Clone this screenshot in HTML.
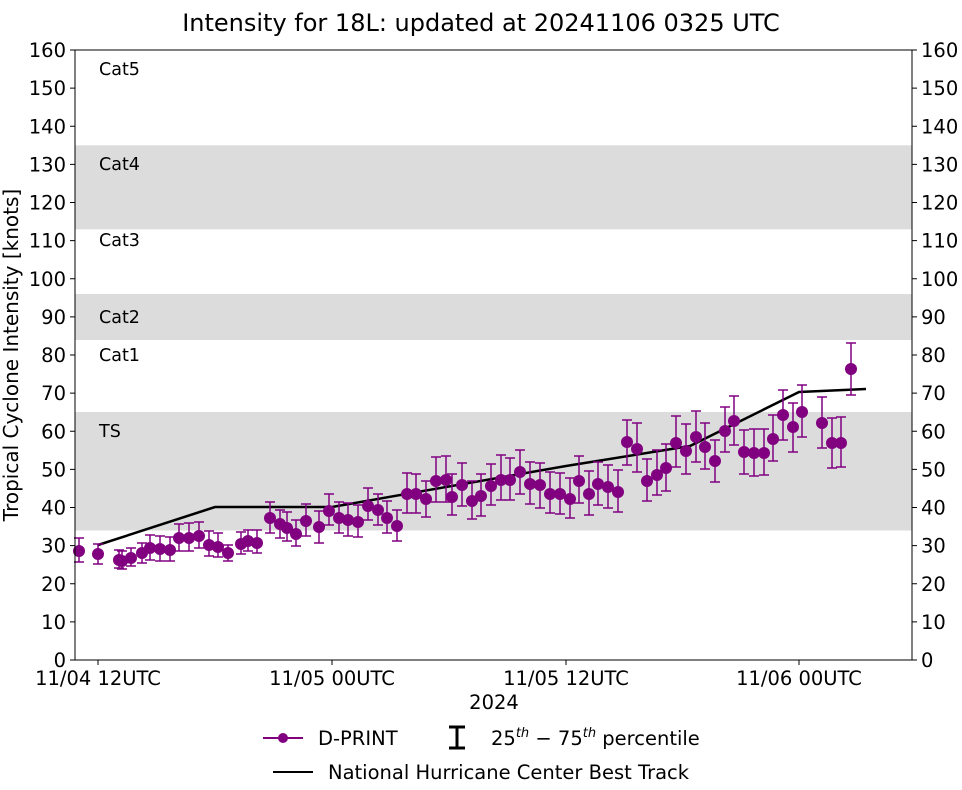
<!DOCTYPE html>
<html><head><meta charset="utf-8"><style>
body{margin:0;background:#fff;}
svg text{font-family:"DejaVu Sans","Liberation Sans",sans-serif;}
</style></head><body>
<svg id="s" width="962" height="785" xmlns="http://www.w3.org/2000/svg">
<rect width="962" height="785" fill="#fff"/>
<rect x="75" y="412" width="837" height="118.5" fill="#dcdcdc"/>
<rect x="75" y="294" width="837" height="46" fill="#dcdcdc"/>
<rect x="75" y="145.3" width="837" height="84" fill="#dcdcdc"/>
<g font-size="17.5" fill="#000">
<text x="99" y="75">Cat5</text><text x="99" y="170">Cat4</text><text x="99" y="246">Cat3</text>
<text x="99" y="323">Cat2</text><text x="99" y="361">Cat1</text><text x="99" y="437">TS</text>
</g>
<g id="ticks"></g>
<polyline points="98,545 215,507 332,507 566,466 690,446 799,392 866,389" fill="none" stroke="#000" stroke-width="2.5"/>
<g id="pts"></g>
<rect x="75" y="50" width="837" height="610" fill="none" stroke="#000" stroke-width="1"/>
<text x="481" y="31" font-size="24" text-anchor="middle">Intensity for 18L: updated at 20241106 0325 UTC</text>
<text x="494" y="709" font-size="19.5" text-anchor="middle">2024</text>
<text transform="translate(18,355) rotate(-90)" font-size="20" text-anchor="middle">Tropical Cyclone Intensity [knots]</text>
<g font-size="19.5">
<line x1="263" y1="738" x2="303" y2="738" stroke="#800080" stroke-width="2"/>
<circle cx="283" cy="738" r="5" fill="#800080"/>
<text x="318" y="745">D-PRINT</text>
<path d="M449,727h16M457,727v21M449,748h16" stroke="#000" stroke-width="3" fill="none"/>
<text x="491" y="745">25<tspan font-size="13" dy="-8" font-style="italic">th</tspan><tspan dy="8"> − 75</tspan><tspan font-size="13" dy="-8" font-style="italic">th</tspan><tspan dy="8"> percentile</tspan></text>
<line x1="273" y1="772" x2="313" y2="772" stroke="#000" stroke-width="2"/>
<text x="328" y="779">National Hurricane Center Best Track</text>
</g>
</svg>
<script>
var NS="http://www.w3.org/2000/svg";
function el(p,t,a,txt){var e=document.createElementNS(NS,t);for(var k in a)e.setAttribute(k,a[k]);if(txt!==undefined)e.textContent=txt;p.appendChild(e);return e;}
var tg=document.getElementById("ticks");
for(var v=0;v<=160;v+=10){var y=660-v*3.8125;
el(tg,"line",{x1:70,y1:y,x2:75,y2:y,stroke:"#000"});
el(tg,"line",{x1:912,y1:y,x2:917,y2:y,stroke:"#000"});
el(tg,"text",{x:66,y:y+7,"font-size":19.5,"text-anchor":"end"},v);
el(tg,"text",{x:921,y:y+7,"font-size":19.5},v);}
var xt=[[98,"11/04 12UTC"],[332,"11/05 00UTC"],[566,"11/05 12UTC"],[799,"11/06 00UTC"]];
xt.forEach(function(t){el(tg,"line",{x1:t[0],y1:660,x2:t[0],y2:665,stroke:"#000"});
el(tg,"text",{x:t[0],y:685,"font-size":19.5,"text-anchor":"middle"},t[1]);});
var P=[[79,551,538,562],[98,554,544,564],[119,560,550,568],[122,561,551,569],[131,558,548,566],[142,553,543,563],[150,548,535,560],[160,549,536,561],[170,550,537,561],[179,538,524,551],[189,538,523,551],[199,536,522,548],[209,545,531,556],[218,547,533,557],[228,553,545,561],[241,544,532,554],[248,541,530,551],[257,543,530,553],[270,518,502,533],[280,524,510,538],[287,528,512,541],[296,534,520,546],[306,521,504,536],[319,527,511,543],[329,511,494,525],[339,518,502,533],[348,520,503,536],[358,522,505,537],[368,506,488,520],[378,510,494,525],[387,518,501,533],[397,526,510,541],[407,494,473,513],[416,494,474,513],[426,499,481,517],[436,481,457,502],[446,480,456,502],[452,497,474,515],[462,485,463,506],[472,501,481,519],[481,496,474,516],[491,486,464,505],[501,480,455,500],[510,480,458,500],[520,472,450,494],[530,484,462,504],[540,485,463,508],[550,494,472,513],[560,494,473,514],[570,499,478,518],[579,481,456,503],[589,494,471,515],[598,484,462,505],[608,487,465,508],[618,492,470,512],[627,442,420,465],[637,449,423,472],[647,481,459,501],[657,475,450,495],[666,468,444,491],[676,443,416,467],[686,451,424,474],[696,437,411,462],[705,447,423,469],[715,461,440,482],[725,431,407,452],[734,421,396,445],[744,452,430,474],[754,453,429,476],[764,453,429,475],[773,439,415,461],[783,415,390,440],[793,427,403,452],[802,412,385,437],[822,423,397,448],[832,443,418,468],[841,443,417,467],[851,369,343,395]];
var pg=document.getElementById("pts");
P.forEach(function(p){var x=p[0];
el(pg,"path",{d:"M"+(x-5)+","+p[2]+"h10M"+x+","+p[2]+"V"+p[3]+"M"+(x-5)+","+p[3]+"h10",stroke:"#800080","stroke-width":1.5,fill:"none"});});
P.forEach(function(p){el(pg,"circle",{cx:p[0],cy:p[1],r:6,fill:"#800080"});});
</script>
</body></html>
